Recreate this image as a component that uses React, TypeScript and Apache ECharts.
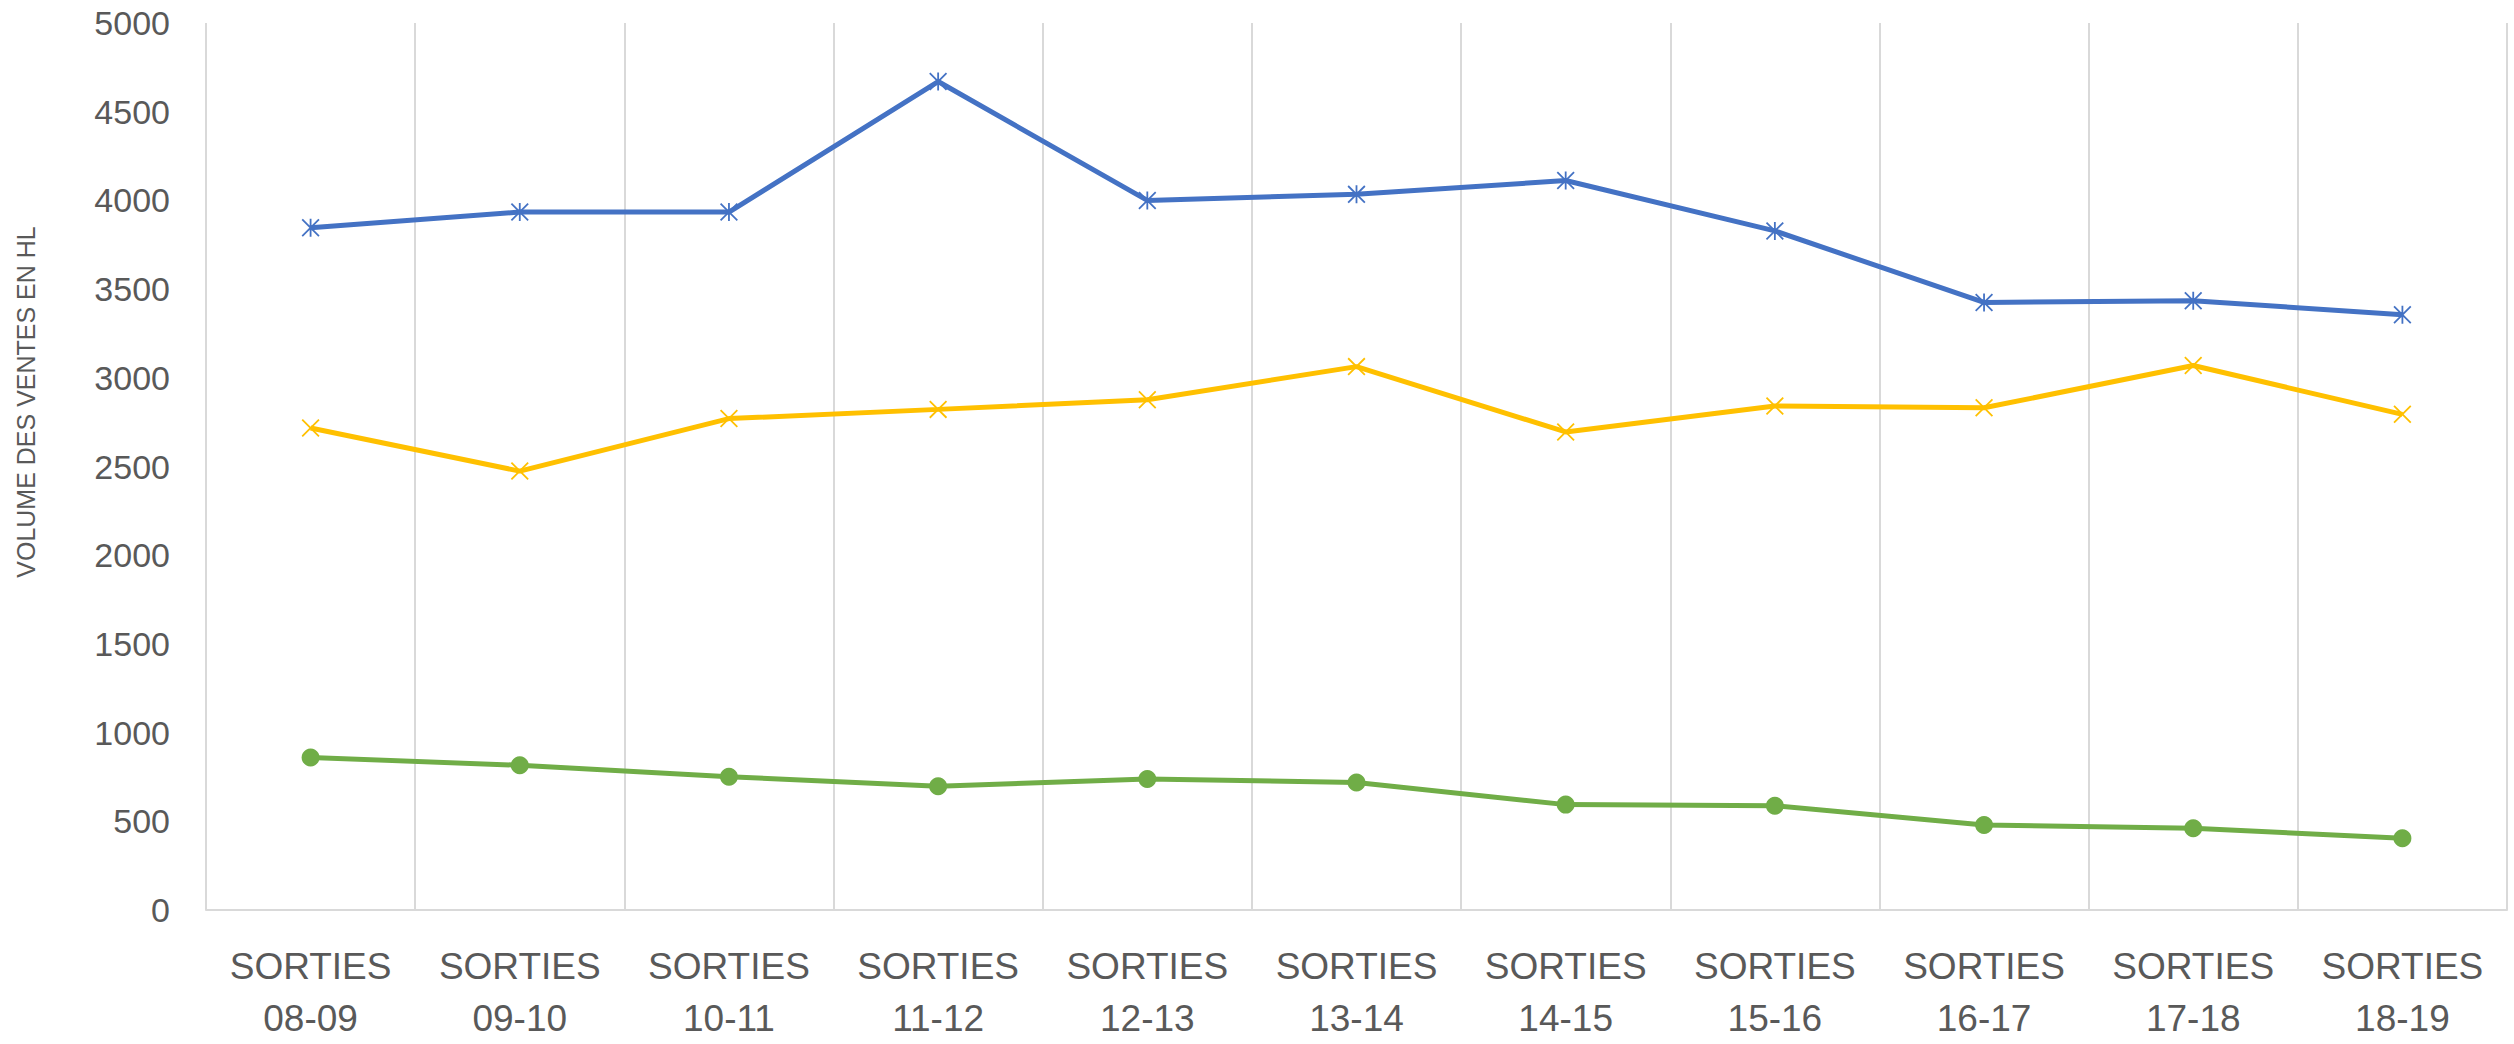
import React, { useEffect, useRef } from "react";
import * as echarts from "echarts";

const categories = [
  "SORTIES\n08-09",
  "SORTIES\n09-10",
  "SORTIES\n10-11",
  "SORTIES\n11-12",
  "SORTIES\n12-13",
  "SORTIES\n13-14",
  "SORTIES\n14-15",
  "SORTIES\n15-16",
  "SORTIES\n16-17",
  "SORTIES\n17-18",
  "SORTIES\n18-19",
];

const blueSeries = [3846, 3934, 3934, 4670, 4000, 4034, 4112, 3828, 3425, 3434, 3356];
const yellowSeries = [2717, 2474, 2770, 2822, 2876, 3063, 2695, 2841, 2831, 3069, 2794];
const greenSeries = [860, 816, 751, 698, 738, 719, 594, 588, 479, 461, 404];

const yAxisTitle = "VOLUME DES VENTES EN HL";

const X_PATH =
  "path://M0,7 L7,0 L100,93 L93,100 Z M93,0 L100,7 L7,100 L0,93 Z";
const STAR_PATH =
  "path://M0,7 L7,0 L100,93 L93,100 Z M93,0 L100,7 L7,100 L0,93 Z M45,0 L55,0 L55,100 L45,100 Z";

export default function App() {
  const ref = useRef<HTMLDivElement>(null);

  useEffect(() => {
    document.body.style.margin = "0";
    if (!ref.current) return;
    const chart = echarts.init(ref.current, null, { renderer: "svg" });
    const font = "'Liberation Sans', Arial, sans-serif";
    chart.setOption({
      animation: false,
      backgroundColor: "#ffffff",
      grid: { left: 206, right: 7, top: 23, bottom: 131, containLabel: false },
      xAxis: {
        type: "category",
        data: categories,
        boundaryGap: true,
        axisLine: { show: true, lineStyle: { color: "#d9d9d9", width: 2 } },
        axisTick: { show: false },
        splitLine: { show: true, lineStyle: { color: "#d9d9d9", width: 2 } },
        axisLabel: {
          interval: 0,
          margin: 30,
          fontSize: 37,
          lineHeight: 52,
          color: "#595959",
          fontFamily: font,
        },
      },
      yAxis: {
        type: "value",
        min: 0,
        max: 5000,
        interval: 500,
        axisLine: { show: false },
        axisTick: { show: false },
        splitLine: { show: false },
        axisLabel: {
          margin: 36,
          fontSize: 34,
          color: "#595959",
          fontFamily: font,
          formatter: (v: number) => String(v),
        },
      },
      graphic: [
        {
          type: "text",
          x: 26,
          y: 402,
          rotation: Math.PI / 2,
          style: {
            text: yAxisTitle,
            fontSize: 25,
            fontFamily: font,
            fill: "#595959",
            align: "center",
            verticalAlign: "middle",
          },
        },
      ],
      series: [
        {
          type: "line",
          data: blueSeries,
          lineStyle: { color: "#4472C4", width: 5 },
          itemStyle: { color: "#4472C4" },
          symbol: STAR_PATH,
          symbolSize: 18,
          showAllSymbol: true,
        },
        {
          type: "line",
          data: yellowSeries,
          lineStyle: { color: "#FFC000", width: 5 },
          itemStyle: { color: "#FFC000" },
          symbol: X_PATH,
          symbolSize: 18,
          showAllSymbol: true,
        },
        {
          type: "line",
          data: greenSeries,
          lineStyle: { color: "#70AD47", width: 5 },
          itemStyle: { color: "#70AD47" },
          symbol: "circle",
          symbolSize: 18,
          showAllSymbol: true,
        },
      ],
    });
    return () => chart.dispose();
  }, []);

  return <div ref={ref} style={{ width: 2514, height: 1044 }} />;
}
